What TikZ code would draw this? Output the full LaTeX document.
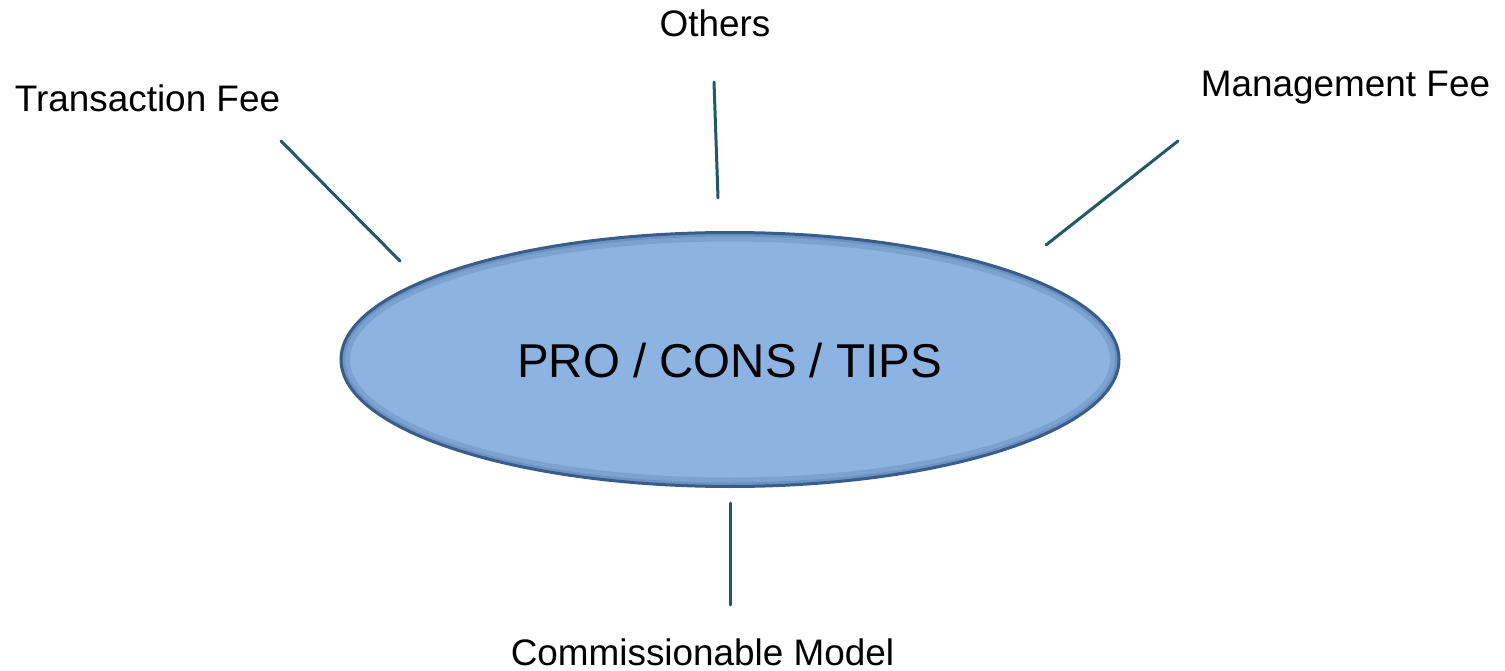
\documentclass[tikz,border=0pt]{standalone}
\usepackage{fontspec}
\setmainfont{Liberation Sans}
\definecolor{linec}{HTML}{215968}
\definecolor{ellfill}{HTML}{8DB3E2}
\definecolor{elledge}{HTML}{385D8A}
\definecolor{ellshade}{HTML}{5F84B5}
\tikzset{
  lbl/.style={inner sep=0pt, anchor=base, text=black, font=\fontsize{36.9}{40}\selectfont},
  conn/.style={draw=linec, line width=3pt, line cap=round},
}
\begin{document}
\begin{tikzpicture}[x=1pt,y=-1pt]
\useasboundingbox (0,0) rectangle (1505,671);
% ellipse
\fill[ellfill] (730,359.5) ellipse [x radius=390, y radius=127.5];
\draw[ellshade, line width=8pt, opacity=0.35] (730,359.5) ellipse [x radius=384, y radius=122];
\draw[ellshade, line width=4pt, opacity=0.55] (730,359.5) ellipse [x radius=387, y radius=125];
\draw[elledge, line width=3pt] (730,359.5) ellipse [x radius=389, y radius=127];
\node[lbl, font=\fontsize{47.5}{52}\selectfont] (center) at (729.5,377) {PRO / CONS / TIPS};
% labels
\node[lbl] (tf) at (147.5,112) {Transaction Fee};
\node[lbl] (ot) at (715,37) {Others};
\node[lbl] (mf) at (1345.5,97) {Management Fee};
\node[lbl] (cm) at (702.5,665) {Commissionable Model};
% connector ends
\coordinate (tf1) at (281,141);
\coordinate (tf2) at (400,261);
\coordinate (ot1) at (714,82);
\coordinate (ot2) at (718,198);
\coordinate (mf1) at (1178,141);
\coordinate (mf2) at (1046,245);
\coordinate (cm1) at (730,503);
\coordinate (cm2) at (730,605);
\draw[conn] (tf1) -- (tf2);
\draw[conn] (ot1) -- (ot2);
\draw[conn] (mf1) -- (mf2);
\draw[conn] (cm1) -- (cm2);
\end{tikzpicture}
\end{document}
